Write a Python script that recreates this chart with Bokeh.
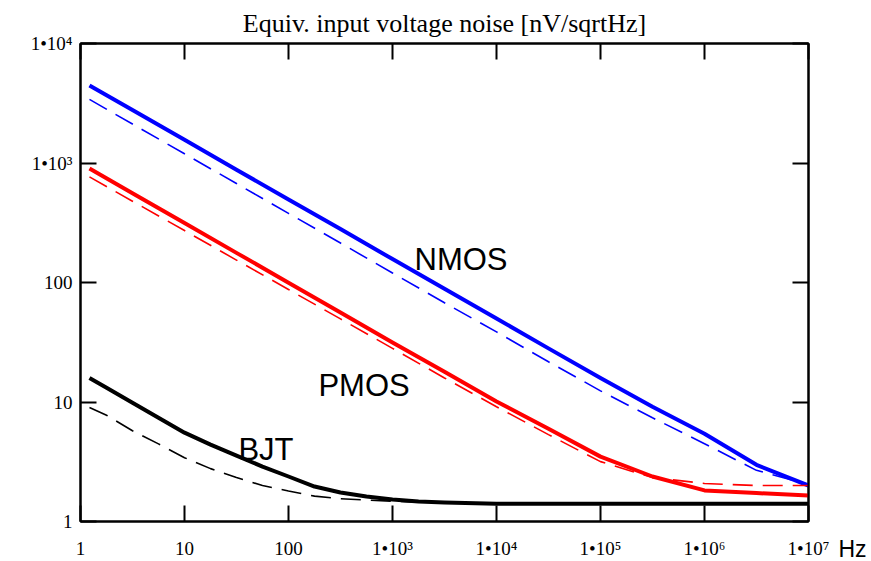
from bokeh.plotting import figure
from bokeh.models import Range1d, FixedTicker, LogAxis, Label
from bokeh.embed import file_html
from bokeh.resources import INLINE

# ---- data ----
freq_hz = [1.22, 3.16, 10, 31.6, 100, 316, 1e3, 3.16e3, 1e4, 3.16e4, 1e5, 3.16e5, 1e6, 3.16e6, 1e7]
nmos_solid = [4460, 2773, 1564, 879, 496, 280, 157, 88.6, 50.0, 28.1, 15.9, 9.12, 5.43, 2.98, 2.0]
nmos_dashed = [3405, 2118, 1194, 673, 379, 214, 120, 67.7, 38.6, 21.7, 12.4, 7.38, 4.48, 2.68, 2.04]
pmos_solid = [899, 559, 315, 177, 99.6, 56.0, 31.5, 17.9, 10.1, 5.98, 3.49, 2.38, 1.82, 1.73, 1.65]
pmos_dashed = [765, 479, 272, 154, 87.4, 49.6, 28.1, 15.9, 9.13, 5.33, 3.17, 2.33, 2.08, 2.0, 2.0]

bjt_freq_hz = [1.22, 1.78, 3.16, 5.62, 10, 17.8, 31.6, 56.2, 100, 178, 316, 562,
               1e3, 1.78e3, 3.16e3, 1e4, 1e5, 1e6, 1e7]
bjt_solid = [15.85, 13.15, 9.86, 7.39, 5.54, 4.40, 3.56, 2.88, 2.38, 1.96, 1.75, 1.62,
             1.53, 1.47, 1.44, 1.41, 1.41, 1.41, 1.41]
bjt_dashed = [9.01, 7.75, 5.75, 4.46, 3.42, 2.77, 2.33, 2.0, 1.80, 1.63, 1.55, 1.51,
              1.48, 1.45, 1.44, 1.43, 1.42, 1.42, 1.42]

x_ticks = [1, 10, 100, 1e3, 1e4, 1e5, 1e6, 1e7]
x_tick_labels = ["1", "10", "100", "1\u202210\u00b3", "1\u202210\u2074", "1\u202210\u2075",
                 "1\u202210\u2076", "1\u202210\u2077"]
y_ticks = [1, 10, 100, 1e3, 1e4]
y_tick_labels = ["1", "10", "100", "1\u202210\u00b3", "1\u202210\u2074"]

title_text = "Equiv. input voltage noise [nV/sqrtHz]"
x_unit = "Hz"
curve_names = ["NMOS", "PMOS", "BJT"]

SERIF = "Liberation Serif"
SANS = "Liberation Sans"

p = figure(width=871, height=561, x_axis_type="log", y_axis_type="log",
           x_range=Range1d(1, 1e7), y_range=Range1d(1, 1e4),
           output_backend="svg", toolbar_location=None,
           min_border_left=80, min_border_right=63, min_border_top=42, min_border_bottom=40)
p.grid.visible = False
p.outline_line_color = "black"
p.outline_line_width = 2
p.background_fill_color = "white"
p.border_fill_color = "white"

p.title.text = title_text
p.title.align = "center"
p.title.text_font = SERIF
p.title.text_font_style = "normal"
p.title.text_font_size = "26px"
p.title.text_color = "black"
p.title.standoff = 12


def style_axis(ax, ticks, labels):
    ax.ticker = FixedTicker(ticks=ticks, minor_ticks=[])
    ax.major_label_overrides = dict(zip(ticks, labels))
    ax.major_tick_in = 16
    ax.major_tick_out = 0
    ax.minor_tick_in = 0
    ax.minor_tick_out = 0
    ax.major_tick_line_width = 2
    ax.major_tick_line_color = "black"
    ax.axis_line_width = 2
    ax.axis_line_color = "black"
    ax.major_label_text_color = "black"
    ax.major_label_text_font = SERIF
    ax.major_label_text_font_size = "19px"


style_axis(p.xaxis[0], x_ticks, x_tick_labels)
p.xaxis[0].major_label_standoff = 16
style_axis(p.yaxis[0], y_ticks, y_tick_labels)
p.yaxis[0].major_label_standoff = 8

top = LogAxis()
style_axis(top, x_ticks, [""] * len(x_ticks))
top.major_label_text_font_size = "0px"
top.major_label_standoff = 0
p.add_layout(top, "above")

right = LogAxis()
style_axis(right, y_ticks, ["\n\n" + x_unit] + [""] * (len(y_ticks) - 1))
right.major_label_text_font = SANS
right.major_label_text_font_size = "23px"
right.major_label_standoff = 30
p.add_layout(right, "right")

# ---- curves ----
p.line(freq_hz, nmos_solid, line_color="#0000ff", line_width=4, line_join="round")
p.line(freq_hz, nmos_dashed, line_color="#0000ff", line_width=1.6, line_dash="20 10")
p.line(freq_hz, pmos_solid, line_color="#ff0000", line_width=4, line_join="round")
p.line(freq_hz, pmos_dashed, line_color="#ff0000", line_width=1.6, line_dash="20 10")
p.line(bjt_freq_hz, bjt_dashed, line_color="black", line_width=1.6, line_dash="20 10")
p.line(bjt_freq_hz, bjt_solid, line_color="black", line_width=4, line_join="round")

# ---- curve names (inside the frame) ----
for name, xv, yv in zip(curve_names, [1628, 194, 33], [157, 13.7, 4.0]):
    p.add_layout(Label(x=xv, y=yv, text=name, text_align="left", text_baseline="alphabetic",
                       text_color="black", text_font=SANS, text_font_size="31px"))

open("out.html", "w").write(file_html(p, INLINE))
